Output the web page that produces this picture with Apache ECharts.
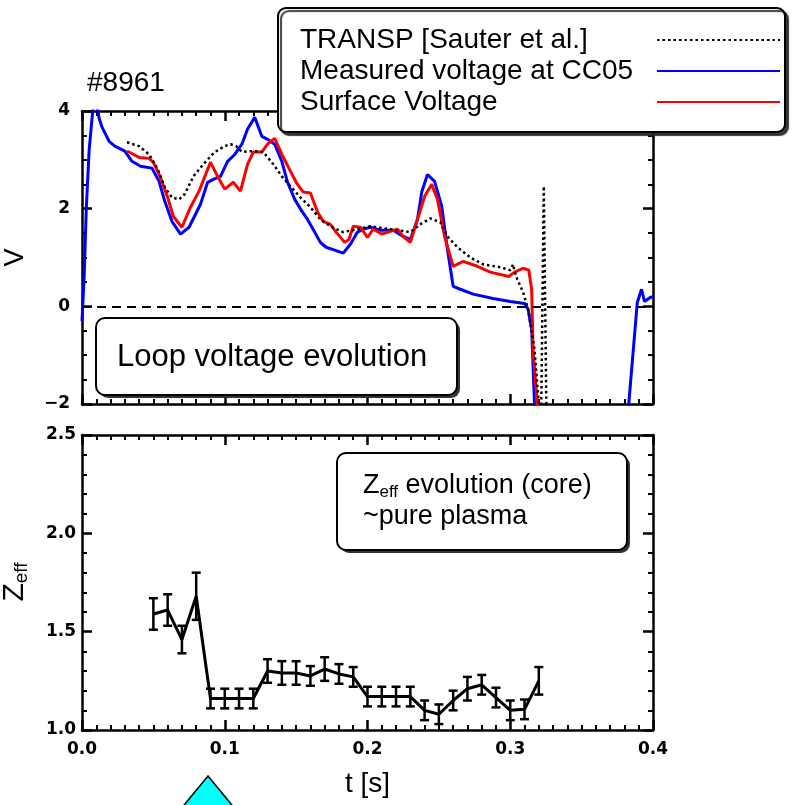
<!DOCTYPE html>
<html>
<head>
<meta charset="utf-8">
<script src="https://cdn.jsdelivr.net/npm/echarts@6/dist/echarts.min.js"></script>
<style>
  html, body { margin: 0; padding: 0; background: #fff; }
  #chart { width: 809px; height: 805px; }
</style>
</head>
<body>
<div id="chart"></div>
<script>
// Shot #8961: loop voltage (top) and core Zeff (bottom) versus time
const shotLabel = '#8961';
const timeTicks = [0.0, 0.1, 0.2, 0.3, 0.4];
const voltTicks = [-2, 0, 2, 4];
const zeffTicks = [1.0, 1.5, 2.0, 2.5];

// TRANSP [Sauter et al.] loop voltage
const transpT = [0.0315, 0.040, 0.047, 0.053, 0.058, 0.063, 0.068, 0.072, 0.078, 0.085, 0.093, 0.100, 0.104, 0.108,
  0.112, 0.120, 0.127, 0.134, 0.140, 0.146, 0.153, 0.160, 0.167, 0.174, 0.183, 0.193, 0.202, 0.211, 0.221, 0.230,
  0.237, 0.244, 0.251, 0.256, 0.263, 0.272, 0.281, 0.293, 0.300, 0.302, 0.303, 0.305, 0.309, 0.3125, 0.317, 0.320,
  0.3215, 0.3235, 0.3255];
const transpV = [3.36, 3.28, 3.11, 2.81, 2.44, 2.23, 2.19, 2.30, 2.66, 2.91, 3.16, 3.28, 3.32, 3.28,
  3.16, 3.18, 3.16, 2.91, 2.66, 2.46, 2.23, 2.03, 1.78, 1.64, 1.52, 1.58, 1.64, 1.60, 1.56, 1.52,
  1.68, 1.80, 1.72, 1.43, 1.21, 1.00, 0.86, 0.80, 0.74, 0.86, 0.72, 0.55, 0.29, -0.06, -0.88, -2.0,
  -2.6, 2.46, -2.6];

// Measured voltage at CC05
const cc05T = [0, 0.0015, 0.003, 0.005, 0.0075, 0.009, 0.0105, 0.012, 0.014, 0.019, 0.023, 0.030, 0.035, 0.041,
  0.049, 0.054, 0.058, 0.063, 0.069, 0.075, 0.083, 0.088, 0.092, 0.097, 0.102, 0.107, 0.112, 0.116, 0.121,
  0.126, 0.130, 0.135, 0.140, 0.144, 0.149, 0.154, 0.158, 0.163, 0.167, 0.171, 0.177, 0.183, 0.188, 0.193,
  0.197, 0.202, 0.209, 0.218, 0.225, 0.230, 0.235, 0.238, 0.242, 0.247, 0.252, 0.256, 0.260, 0.265, 0.274,
  0.288, 0.300, 0.310, 0.3125, 0.315, 0.317, 0.319, 0.381, 0.383, 0.389, 0.392, 0.394, 0.398, 0.400];
const cc05V = [-0.30, 0.6, 2.0, 3.2, 4.0, 4.5, 4.1, 3.85, 3.67, 3.38, 3.28, 3.18, 2.97, 2.87,
  2.83, 2.56, 2.15, 1.74, 1.48, 1.62, 2.09, 2.54, 2.60, 2.66, 2.97, 3.11, 3.32, 3.63, 3.87,
  3.48, 3.42, 3.32, 2.97, 2.54, 2.19, 1.95, 1.78, 1.52, 1.31, 1.21, 1.15, 1.09, 1.27, 1.52,
  1.58, 1.62, 1.56, 1.56, 1.43, 1.37, 1.78, 2.34, 2.70, 2.56, 2.05, 1.17, 0.41, 0.35, 0.25,
  0.16, 0.10, 0.06, -0.06, -0.47, -2.0, -2.8, -2.8, -2.0, 0.08, 0.35, 0.10, 0.18, 0.20];

// Surface voltage
const surfT = [0.0315, 0.040, 0.047, 0.050, 0.055, 0.060, 0.064, 0.070, 0.076, 0.082, 0.090, 0.095, 0.100, 0.106,
  0.111, 0.116, 0.120, 0.126, 0.130, 0.135, 0.140, 0.146, 0.150, 0.155, 0.160, 0.165, 0.169, 0.174, 0.178,
  0.184, 0.187, 0.190, 0.195, 0.200, 0.204, 0.210, 0.221, 0.225, 0.230, 0.235, 0.240, 0.245, 0.249, 0.254,
  0.260, 0.267, 0.277, 0.286, 0.299, 0.303, 0.309, 0.313, 0.315, 0.316, 0.319, 0.320];
const surfV = [3.18, 3.05, 3.03, 2.95, 2.64, 2.23, 1.84, 1.62, 2.03, 2.36, 2.95, 2.66, 2.40, 2.54,
  2.36, 2.91, 3.16, 3.16, 3.32, 3.44, 3.11, 2.77, 2.54, 2.34, 2.32, 1.93, 1.74, 1.68, 1.52,
  1.31, 1.37, 1.64, 1.62, 1.41, 1.58, 1.48, 1.58, 1.43, 1.31, 1.78, 2.25, 2.50, 2.19, 1.43,
  0.82, 0.92, 0.82, 0.70, 0.61, 0.70, 0.78, 0.74, 0.35, -0.88, -2.0, -2.4];

// Core Zeff with error bars
const zeffT = [0.05, 0.06, 0.07, 0.08, 0.09, 0.10, 0.11, 0.12, 0.13, 0.14, 0.15, 0.16, 0.17, 0.18,
  0.19, 0.20, 0.21, 0.22, 0.23, 0.24, 0.25, 0.26, 0.27, 0.28, 0.29, 0.30, 0.31, 0.32];
const zeffV = [1.59, 1.61, 1.46, 1.68, 1.16, 1.16, 1.16, 1.16, 1.30, 1.29, 1.29, 1.275, 1.31, 1.285,
  1.27, 1.17, 1.17, 1.17, 1.17, 1.10, 1.08, 1.15, 1.21, 1.23, 1.165, 1.10, 1.105, 1.25];
const zeffErr = [0.08, 0.08, 0.07, 0.12, 0.05, 0.05, 0.05, 0.05, 0.06, 0.06, 0.06, 0.05, 0.06, 0.05,
  0.05, 0.05, 0.05, 0.05, 0.05, 0.05, 0.05, 0.05, 0.06, 0.05, 0.05, 0.05, 0.05, 0.07];

const pairs = (xs, ys) => xs.map((x, i) => [x, ys[i]]);

const TXT = 'Liberation Sans, Arial, Helvetica, sans-serif';
const TICK_FONT = 'DejaVu Sans, sans-serif';

function frameAxis(base) {
  return Object.assign({
    type: 'value',
    axisLine: { show: true, onZero: false, lineStyle: { color: '#000', width: 2.5 } },
    axisTick: { show: true, inside: true, length: 10, lineStyle: { color: '#000', width: 2.5 } },
    minorTick: { show: true, length: 5, lineStyle: { color: '#000', width: 2 } },
    splitLine: { show: false },
    axisLabel: { show: false }
  }, base);
}
const minor = n => ({ show: true, splitNumber: n, length: 5, lineStyle: { color: '#000', width: 2 } });

const tickLabel = {
  show: true, color: '#000', fontFamily: TICK_FONT, fontWeight: 'bold', fontSize: 17, margin: 11
};

const chart = echarts.init(document.getElementById('chart'), null, { renderer: 'canvas' });

chart.setOption({
  animation: false,
  backgroundColor: '#fff',
  title: {
    text: shotLabel, left: 82, top: 64,
    textStyle: { fontFamily: TXT, fontWeight: 'normal', fontSize: 28, color: '#000' }
  },
  legend: {
    orient: 'vertical', left: 278, top: 8, align: 'right',
    selectedMode: false,
    data: ['TRANSP [Sauter et al.]', 'Measured voltage at CC05', 'Surface Voltage'],
    itemWidth: 123, itemHeight: 14, itemGap: 3,
    padding: [18, 4, 16, 22],
    backgroundColor: '#fff', borderColor: '#000', borderWidth: 2, borderRadius: 8,
    shadowColor: 'rgba(40,40,40,0.9)', shadowOffsetX: 3, shadowOffsetY: 3, shadowBlur: 1,
    itemStyle: { opacity: 0 },
    formatter: name => '{a|' + name + '}',
    textStyle: {
      fontFamily: TXT, fontSize: 28, color: '#000', lineHeight: 28,
      rich: { a: { fontFamily: TXT, fontSize: 28, color: '#000', lineHeight: 28, width: 352, align: 'left' } }
    }
  },
  grid: [
    { left: 82, top: 111, width: 571, height: 293, outerBoundsMode: 'none', containLabel: false },
    { left: 82, top: 435, width: 571, height: 295, outerBoundsMode: 'none', containLabel: false }
  ],
  xAxis: [
    frameAxis({ gridIndex: 0, position: 'bottom', min: timeTicks[0], max: timeTicks[timeTicks.length - 1], interval: 0.1,
      minorTick: minor(10) }),
    frameAxis({ gridIndex: 0, position: 'top', min: 0, max: 0.4, interval: 0.1, minorTick: minor(10) }),
    frameAxis({ gridIndex: 1, position: 'bottom', min: timeTicks[0], max: timeTicks[timeTicks.length - 1], interval: 0.1,
      minorTick: minor(10),
      axisLabel: Object.assign({}, tickLabel, { margin: 11, formatter: v => v.toFixed(1) }),
      name: 't [s]', nameLocation: 'middle', nameGap: 40,
      nameTextStyle: { fontFamily: TXT, fontSize: 28, color: '#000' } }),
    frameAxis({ gridIndex: 1, position: 'top', min: 0, max: 0.4, interval: 0.1, minorTick: minor(10) })
  ],
  yAxis: [
    frameAxis({ gridIndex: 0, position: 'left', min: voltTicks[0], max: voltTicks[voltTicks.length - 1], interval: 2,
      minorTick: minor(4),
      axisLabel: Object.assign({}, tickLabel, { margin: 12, formatter: v => String(v).replace('-', '\u2212') }),
      name: 'V', nameLocation: 'middle', nameGap: 53,
      nameTextStyle: { fontFamily: TXT, fontSize: 27, color: '#000' } }),
    frameAxis({ gridIndex: 0, position: 'right', min: -2, max: 4, interval: 2, minorTick: minor(4) }),
    frameAxis({ gridIndex: 1, position: 'left', min: zeffTicks[0], max: zeffTicks[zeffTicks.length - 1], interval: 0.5,
      minorTick: minor(5),
      axisLabel: Object.assign({}, tickLabel, { margin: 6, formatter: v => v.toFixed(1) }) }),
    frameAxis({ gridIndex: 1, position: 'right', min: 1, max: 2.5, interval: 0.5, minorTick: minor(5) })
  ],
  series: [
    {
      name: 'TRANSP [Sauter et al.]', type: 'line', xAxisIndex: 0, yAxisIndex: 0,
      data: pairs(transpT, transpV), symbol: 'none', clip: true, z: 3,
      lineStyle: { color: '#000', width: 2.5, type: [2.5, 3] },
      itemStyle: { color: '#000' }
    },
    {
      name: 'Measured voltage at CC05', type: 'line', xAxisIndex: 0, yAxisIndex: 0,
      data: pairs(cc05T, cc05V), symbol: 'none', clip: true, z: 2,
      lineStyle: { color: '#0000ff', width: 3 },
      itemStyle: { color: '#0000ff' },
      markLine: {
        silent: true, symbol: 'none', label: { show: false },
        lineStyle: { color: '#000', width: 2, type: [9, 6] },
        data: [{ yAxis: 0 }]
      }
    },
    {
      name: 'Surface Voltage', type: 'line', xAxisIndex: 0, yAxisIndex: 0,
      data: pairs(surfT, surfV), symbol: 'none', clip: true, z: 2,
      lineStyle: { color: '#ff0000', width: 3 },
      itemStyle: { color: '#ff0000' }
    },
    {
      name: 'Zeff', type: 'line', xAxisIndex: 2, yAxisIndex: 2,
      data: pairs(zeffT, zeffV), symbol: 'none',
      lineStyle: { color: '#000', width: 3 }
    },
    {
      name: 'Zeff error', type: 'custom', xAxisIndex: 2, yAxisIndex: 2,
      data: zeffT.map((t, i) => [t, zeffV[i], zeffErr[i]]),
      encode: { x: 0, y: 1 },
      renderItem: function (params, api) {
        const t = api.value(0), v = api.value(1), e = api.value(2);
        const hi = api.coord([t, v + e]);
        const lo = api.coord([t, v - e]);
        const w = 4.5;
        const st = { stroke: '#000', lineWidth: 2.5 };
        return {
          type: 'group',
          children: [
            { type: 'line', shape: { x1: hi[0], y1: hi[1], x2: lo[0], y2: lo[1] }, style: st },
            { type: 'line', shape: { x1: hi[0] - w, y1: hi[1], x2: hi[0] + w, y2: hi[1] }, style: st },
            { type: 'line', shape: { x1: lo[0] - w, y1: lo[1], x2: lo[0] + w, y2: lo[1] }, style: st }
          ]
        };
      }
    }
  ],
  graphic: [
    // Zeff axis title (with subscript)
    { type: 'text', z: 22, x: 15, y: 582, rotation: Math.PI / 2, style: {
      text: '{z|Z}{s|eff}', align: 'center', verticalAlign: 'middle',
      rich: {
        z: { fontFamily: TXT, fontSize: 30, fill: '#000', lineHeight: 32, verticalAlign: 'middle' },
        s: { fontFamily: TXT, fontSize: 19, fill: '#000', lineHeight: 19, verticalAlign: 'bottom' }
      } } },
    // "Loop voltage evolution" label box
    { type: 'rect', z: 20, shape: { x: 99, y: 321, width: 361, height: 77, r: 9 }, style: { fill: '#333' } },
    { type: 'rect', z: 21, shape: { x: 96, y: 318, width: 361, height: 77, r: 9 },
      style: { fill: '#fff', stroke: '#000', lineWidth: 2 } },
    { type: 'text', z: 22, style: { text: 'Loop voltage evolution', x: 117, y: 357, font: '31px ' + TXT,
      fill: '#000', verticalAlign: 'middle' } },
    // Zeff label box
    { type: 'rect', z: 20, shape: { x: 340, y: 456, width: 290, height: 97, r: 9 }, style: { fill: '#333' } },
    { type: 'rect', z: 21, shape: { x: 337, y: 453, width: 290, height: 97, r: 9 },
      style: { fill: '#fff', stroke: '#000', lineWidth: 2 } },
    { type: 'text', z: 22, style: {
      text: '{z|Z}{s|eff}{n| evolution (core)}', x: 363, y: 486, verticalAlign: 'middle',
      rich: {
        z: { fontFamily: TXT, fontSize: 27, fill: '#000', lineHeight: 30, verticalAlign: 'middle' },
        s: { fontFamily: TXT, fontSize: 17, fill: '#000', lineHeight: 17, verticalAlign: 'bottom' },
        n: { fontFamily: TXT, fontSize: 27, fill: '#000', lineHeight: 30, verticalAlign: 'middle' }
      } } },
    { type: 'text', z: 22, style: { text: '~pure plasma', x: 363, y: 517, font: '27px ' + TXT,
      fill: '#000', verticalAlign: 'middle' } },
    // time marker
    { type: 'polygon', z: 20, shape: { points: [[208, 776], [180, 810], [236, 810]] },
      style: { fill: '#00ffff', stroke: '#000', lineWidth: 1.5 } }
  ]
});
</script>
</body>
</html>
